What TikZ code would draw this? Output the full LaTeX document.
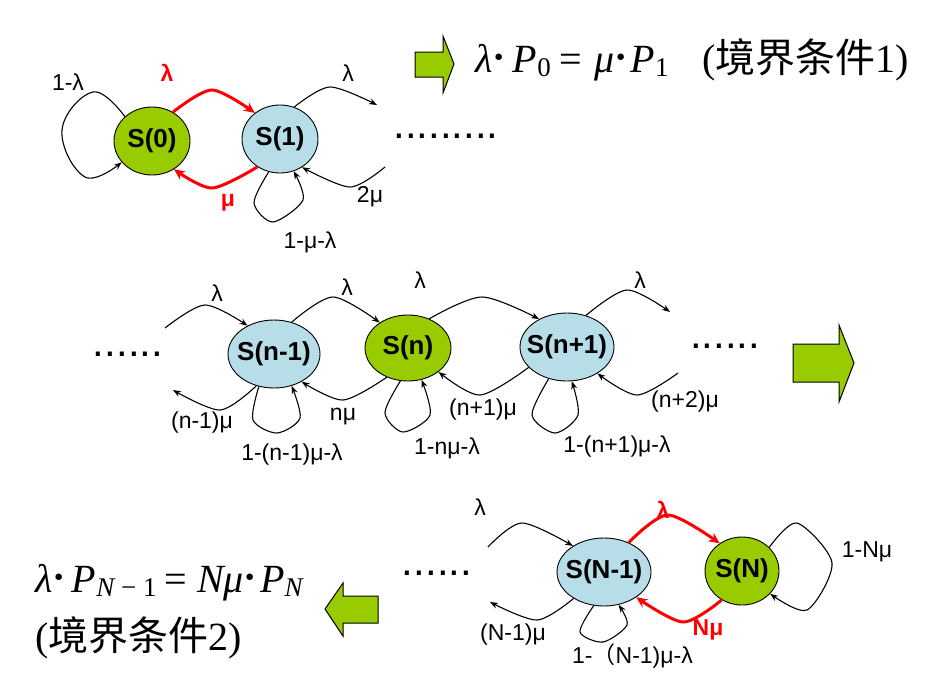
\documentclass[tikz,border=0pt]{standalone}
\usepackage{fontspec}
\setmainfont{Liberation Serif}
\newfontfamily\arial{Liberation Sans}
\newfontfamily\cjk{Noto Sans CJK SC}
\usetikzlibrary{shapes.geometric,arrows.meta}
\definecolor{sgreen}{RGB}{153,204,0}
\definecolor{sblue}{RGB}{183,222,232}
\newcommand\stt[1]{\makebox[0pt]{#1}}
\newcommand\mysub[1]{\raisebox{-0.1em}{\fontsize{27}{29}\selectfont #1}}
\newcommand\mydot{{\bfseries\fontsize{40}{44}\selectfont\raisebox{0.05em}{·}}}
\tikzset{
 state/.style={ellipse,draw,line width=0.9pt,inner sep=0pt,font=\arial\bfseries\fontsize{26}{28}\selectfont},
 gs/.style={state,fill=sgreen},
 bs/.style={state,fill=sblue},
 tr/.style={line width=1.1pt,-{Stealth[length=8pt,width=6pt]}},
 rtr/.style={draw=red,line width=3pt,-{Stealth[length=11pt,width=10pt]}},
 lab/.style={font=\arial\fontsize{23}{25}\selectfont,inner sep=0pt},
 rlab/.style={inner sep=0pt,text=red,font=\arial\bfseries\fontsize{23}{25}\selectfont},
 dots/.style={font=\arial\fontsize{42}{44}\selectfont,inner sep=0pt,anchor=base},
 blk/.style={fill=sgreen,draw=black,line width=1pt,line join=miter},
 eq/.style={font=\fontsize{40}{44}\selectfont,inner sep=0pt,anchor=base west},
}
\begin{document}
\begin{tikzpicture}[x=1pt,y=-1pt]
\useasboundingbox[fill=white] (0,0) rectangle (936,688);
% ---------- states ----------
\node[gs,minimum width=76,minimum height=68] (s0) at (152,141) {\stt{S(0)}};
\node[bs,minimum width=76,minimum height=68] (s1) at (280,139) {\stt{S(1)}};
\node[bs,minimum width=92,minimum height=68] (sn1) at (274,354) {\stt{S(n-1)}};
\node[gs,minimum width=86,minimum height=66] (sn) at (408,348) {\stt{S(n)}};
\node[bs,minimum width=94,minimum height=68] (snp) at (567,347) {\stt{S(n+1)}};
\node[bs,minimum width=94,minimum height=68] (sN1) at (604,572) {\stt{S(N-1)}};
\node[gs,minimum width=74,minimum height=68] (sN) at (742,571) {\stt{S(N)}};
% ---------- free ends ----------
\coordinate (c1) at (377,105);
\coordinate (c2) at (385,167);
\coordinate (c3) at (165,328);
\coordinate (c4) at (670,312);
\coordinate (c5) at (173,390);
\coordinate (c6) at (678,373);
\coordinate (c7) at (488,547);
\coordinate (c8) at (490,602);
% ---------- row 1 ----------
\draw[tr] plot[smooth,tension=.7] coordinates {(s0.138) (93,92) (62,130) (85,177) (s0.215)};
\draw[rtr] plot[smooth] coordinates {(s0.54) (212,90) (s1.134)};
\draw[rtr] plot[smooth] coordinates {(s1.231) (212,188) (s0.308)};
\draw[tr] plot[smooth] coordinates {(s1.66) (330,87) (c1)};
\draw[tr] plot[smooth] coordinates {(c2) (350,187) (s1.308)};
\draw[tr] plot[smooth] coordinates {(s1.251) (254,203) (273,222) (303,200) (s1.293)};
% ---------- row 2 ----------
\draw[tr] plot[smooth] coordinates {(c3) (205,305) (sn1.133)};
\draw[tr] plot[smooth] coordinates {(sn1.61) (333,297) (sn.138)};
\draw[tr] plot[smooth] coordinates {(sn.54) (482,297) (snp.135)};
\draw[tr] plot[smooth] coordinates {(snp.59) (627,290) (c4)};
\draw[tr] plot[smooth] coordinates {(sn1.241) (220,410) (c5)};
\draw[tr] plot[smooth] coordinates {(sn.234) (343,400) (sn1.315)};
\draw[tr] plot[smooth] coordinates {(snp.208) (480,395) (sn.322)};
\draw[tr] plot[smooth] coordinates {(c6) (637,395) (snp.319)};
\draw[tr] plot[smooth] coordinates {(sn1.245) (253,420) (277,433) (300,418) (sn1.299)};
\draw[tr] plot[smooth] coordinates {(sn.257) (385,413) (403,432) (430,415) (sn.293)};
\draw[tr] plot[smooth] coordinates {(snp.240) (532,415) (555,433) (578,415) (snp.278)};
% ---------- row 3 ----------
\draw[tr] plot[smooth] coordinates {(c7) (522,523) (sN1.140)};
\draw[tr] plot[smooth] coordinates {(sN1.221) (537,620) (c8)};
\draw[tr] plot[smooth] coordinates {(sN1.253) (580,632) (603,642) (627,625) (sN1.294)};
\draw[rtr] plot[smooth] coordinates {(sN1.50) (668,515) (sN.129)};
\draw[rtr] plot[smooth] coordinates {(sN.235) (683,622) (sN1.322)};
\draw[tr] plot[smooth] coordinates {(sN.41) (797,523) (832,563) (807,610) (sN.321)};
% ---------- labels ----------
\node[lab] (l1) at (68,82) {1-λ};
\node[rlab] (l2) at (167,73) {λ};
\node[lab] (l3) at (348,73) {λ};
\node[rlab] (l4) at (228,203) {μ};
\node[lab] (l5) at (370,197) {2μ};
\node[lab] (l6) at (310,242) {1-μ-λ};
\node[lab] (l7) at (217,293) {λ};
\node[lab] (l8) at (347,287) {λ};
\node[lab] (l9) at (420,280) {λ};
\node[lab] (l10) at (640,280) {λ};
\node[lab] (l11) at (202,423) {(n-1)μ};
\node[lab] (l12) at (292,455) {1-(n-1)μ-λ};
\node[lab] (l13) at (343,417) {nμ};
\node[lab] (l14) at (447,448) {1-nμ-λ};
\node[lab] (l15) at (483,410) {(n+1)μ};
\node[lab] (l16) at (685,402) {(n+2)μ};
\node[lab] (l17) at (617,447) {1-(n+1)μ-λ};
\node[lab] (l18) at (480,507) {λ};
\node[rlab] (l19) at (663,510) {λ};
\node[lab] (l20) at (867,552) {1-Nμ};
\node[rlab] (l21) at (708,630) {Nμ};
\node[lab] (l22) at (513,635) {(N-1)μ};
\node[lab,anchor=west] (l23) at (572,656) {1-{\cjk （}N-1)μ-λ};
% ---------- dots ----------
\node[dots] (d1) at (446,138) {.........};
\node[dots] (d2) at (128,356) {......};
\node[dots] (d3) at (725,348) {......};
\node[dots] (d4) at (437,575) {......};
% ---------- block arrows ----------
\draw[blk] (415,52) -- (443,52) -- (443,36) -- (454,64) -- (443,93) -- (443,77) -- (415,77) -- cycle;
\draw[blk] (793,344) -- (839,344) -- (839,325) -- (854,363) -- (839,402) -- (839,382) -- (793,382) -- cycle;
\draw[blk] (378,596) -- (343,596) -- (343,583) -- (325,609) -- (343,636) -- (343,623) -- (378,623) -- cycle;
% ---------- equations ----------
\node[eq] (e1) at (475,72) {{\itshape λ}\mydot\hspace{7pt}{\itshape P}\mysub{0}\hspace{9pt}=\hspace{12pt}{\itshape μ}\mydot\hspace{3pt}{\itshape P}\mysub{1}};
\node[eq] (e2) at (702,72) {({\cjk 境界条件}1)};
\node[eq] (e3) at (35,592) {{\itshape λ}\mydot\hspace{6pt}{\itshape P}\mysub{{\itshape N} − 1}\hspace{8pt}=\hspace{10pt}{\itshape Nμ}\mydot\hspace{3pt}{\itshape P}\mysub{\itshape N}};
\node[eq] (e4) at (35,650) {({\cjk 境界条件}2)};
\end{tikzpicture}
\end{document}
